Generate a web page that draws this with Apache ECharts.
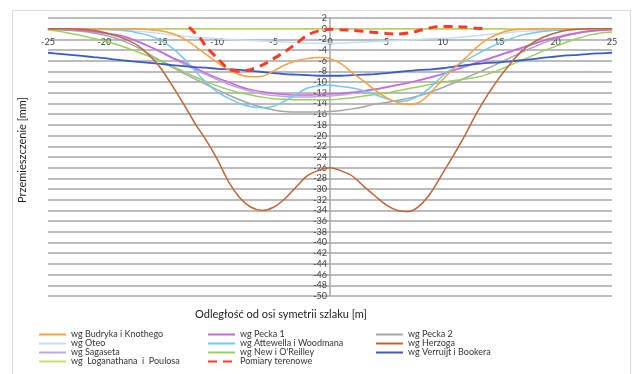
<!DOCTYPE html>
<html><head><meta charset="utf-8">
<script src="https://cdn.jsdelivr.net/npm/echarts@6/dist/echarts.min.js"></script>
<style>html,body{margin:0;padding:0;background:#fff}#c{width:633px;height:374px}</style>
</head><body><div id="c"></div>
<script>
var xValues = [-25,-24,-23,-22,-21,-20,-19,-18,-17,-16,-15,-14,-13,-12,-11,-10,-9,-8,-7,-6,-5,-4,-3,-2,-1,0,1,2,3,4,5,6,7,8,9,10,11,12,13,14,15,16,17,18,19,20,21,22,23,24,25];
var budryka = [0,0,0,0,0,0,0,0,0,-0.2,-0.4,-0.9,-1.8,-3.2,-4.8,-6.3,-7.7,-8.6,-9.0,-8.9,-7.9,-6.8,-6.0,-5.6,-5.4,-5.6,-6.6,-8.3,-9.8,-11.5,-12.9,-13.8,-14.2,-13.7,-11.8,-9.5,-7.4,-5.5,-3.5,-1.9,-0.9,-0.3,-0.1,0,0,0,0,0,0,0,0];
var pecka1 = [-0.1,-0.1,-0.2,-0.3,-0.5,-0.8,-1.1,-1.6,-2.4,-3.3,-4.3,-5.4,-6.3,-7.3,-8.3,-9.2,-10.0,-10.8,-11.4,-11.8,-12.1,-12.3,-12.4,-12.4,-12.3,-12.2,-12.1,-11.9,-11.6,-11.3,-10.9,-10.5,-10.1,-9.6,-9.1,-8.5,-7.8,-7.1,-6.4,-5.7,-5.0,-4.3,-3.6,-2.9,-2.2,-1.7,-1.2,-0.8,-0.5,-0.3,-0.2];
var pecka2 = [-0.1,-0.2,-0.3,-0.5,-0.8,-1.2,-1.8,-2.6,-3.6,-4.8,-6.0,-7.2,-8.3,-9.4,-10.4,-11.4,-12.4,-13.3,-14.1,-14.7,-15.2,-15.5,-15.6,-15.6,-15.6,-15.5,-15.3,-15.0,-14.6,-14.1,-13.8,-13.4,-13.0,-12.5,-11.8,-11.0,-10.1,-9.2,-8.3,-7.4,-6.4,-5.4,-4.4,-3.5,-2.6,-1.9,-1.3,-0.8,-0.5,-0.3,-0.1];
var oteo = [0,0,-0.1,-0.1,-0.2,-0.2,-0.3,-0.4,-0.5,-0.7,-0.9,-1.2,-1.4,-1.6,-1.7,-1.9,-2.0,-2.1,-2.2,-2.3,-2.4,-2.5,-2.6,-2.7,-2.7,-2.8,-2.7,-2.6,-2.5,-2.4,-2.3,-2.2,-2.1,-2.0,-1.9,-1.8,-1.7,-1.5,-1.3,-1.1,-0.9,-0.7,-0.5,-0.4,-0.3,-0.2,-0.2,-0.1,-0.1,0,0];
var attewella = [0,0,0,0,-0.1,-0.1,-0.2,-0.4,-0.8,-1.3,-2.2,-3.6,-5.5,-7.8,-10.0,-11.8,-13.0,-14.0,-14.6,-14.8,-14.5,-13.5,-12.3,-11.1,-10.7,-10.6,-10.8,-11.1,-11.6,-12.3,-13.1,-13.6,-13.4,-12.4,-10.8,-8.8,-7.3,-6.0,-4.8,-3.7,-2.7,-1.9,-1.2,-0.8,-0.5,-0.3,-0.2,-0.1,0,0,0];
var herzoga = [0,0,0,-0.1,-0.3,-0.7,-1.3,-2.1,-3.2,-5.0,-7.4,-10.6,-14.0,-17.6,-20.8,-24.4,-28.6,-31.6,-33.4,-34.0,-33.4,-31.8,-29.6,-27.5,-26.5,-26.0,-26.6,-27.6,-29.5,-31.3,-33.0,-34.0,-34.2,-33.0,-30.5,-27.0,-23.5,-19.8,-15.8,-12.3,-9.2,-6.5,-4.2,-2.6,-1.5,-0.8,-0.3,-0.1,0,0,0];
var sagaseta = [-0.1,-0.2,-0.3,-0.4,-0.6,-0.9,-1.3,-1.8,-2.5,-3.4,-4.4,-5.5,-6.6,-7.6,-8.6,-9.5,-10.4,-11.1,-11.7,-12.2,-12.5,-12.7,-12.8,-12.8,-12.7,-12.6,-12.4,-12.1,-11.8,-11.4,-11.0,-10.6,-10.1,-9.6,-9.0,-8.4,-7.7,-7.0,-6.3,-5.6,-4.9,-4.2,-3.5,-2.8,-2.1,-1.6,-1.1,-0.7,-0.4,-0.2,-0.1];
var newOReilley = [-0.2,-0.5,-0.9,-1.3,-1.8,-2.3,-2.9,-3.6,-4.4,-5.2,-6.1,-7.0,-8.0,-9.0,-9.9,-10.7,-11.4,-12.0,-12.4,-12.8,-13.1,-13.2,-13.3,-13.3,-13.3,-13.3,-13.1,-12.9,-12.6,-12.3,-12.0,-11.6,-11.2,-10.8,-10.4,-10.0,-9.7,-9.4,-9.1,-8.5,-7.7,-6.8,-5.9,-5.0,-4.1,-3.3,-2.5,-1.8,-1.2,-0.8,-0.6];
var verruijt = [-4.5,-4.7,-4.9,-5.1,-5.3,-5.5,-5.8,-6.0,-6.2,-6.4,-6.6,-6.8,-7.0,-7.2,-7.3,-7.5,-7.6,-7.7,-7.9,-8.1,-8.3,-8.5,-8.6,-8.7,-8.8,-8.8,-8.8,-8.7,-8.6,-8.5,-8.3,-8.1,-7.9,-7.7,-7.6,-7.4,-7.1,-6.8,-6.6,-6.4,-6.3,-6.1,-5.9,-5.7,-5.4,-5.2,-5.0,-4.9,-4.7,-4.6,-4.5];
var loganathana = [0,0,0,0,0,0,0,0,0,0,-0.1,-0.1,-0.1,-0.1,-0.1,-0.1,-0.1,-0.1,-0.1,-0.1,-0.1,-0.1,-0.1,-0.1,-0.1,-0.1,-0.1,-0.1,-0.1,-0.1,-0.1,-0.1,-0.1,-0.1,-0.1,-0.1,-0.1,-0.1,-0.1,-0.1,-0.1,0,0,0,0,0,0,0,0,0,0];
var pomiaryX = [-12.5,-11.5,-11,-10,-9,-8,-7,-6,-5,-4,-3,-2,-1,0,1,2,3,4,5,6,7,8,9,10,11,12,13,14];
var pomiaryY = [0.3,-1.8,-3.3,-5.5,-7.5,-8.0,-7.6,-6.8,-5.6,-4.3,-2.8,-1.2,-0.4,-0.1,-0.2,-0.3,-0.5,-0.7,-0.9,-1.0,-0.8,-0.3,0.2,0.4,0.4,0.3,0.1,0];

var seriesNames = ['wg Budryka i Knothego','wg Pecka 1','wg Pecka 2','wg Oteo','wg Attewella i Woodmana','wg Herzoga','wg Sagaseta','wg New i O\'Reilley','wg Verruijt i Bookera','wg  Loganathana  i  Poulosa','Pomiary terenowe'];

var GRID_LEFT = 48, GRID_RIGHT = 21, GRID_TOP = 18, GRID_BOTTOM = 78, W = 633, H = 374;
var X_MIN = -25, X_MAX = 25, Y_MIN = -50, Y_MAX = 2;
// axis crossing offsets (axes drawn through the origin)
var plotW = W - GRID_LEFT - GRID_RIGHT, plotH = H - GRID_TOP - GRID_BOTTOM;
var yAxisShift = plotW * (0 - X_MIN) / (X_MAX - X_MIN);
var xAxisShift = plotH * (Y_MAX - 0) / (Y_MAX - Y_MIN);

function pairs(xs, ys){ return xs.map(function(x,i){ return [x, ys[i]]; }); }
function line(name, ys, color, width){
  return {name:name, type:'line', data:pairs(xValues, ys), symbol:'none', smooth:0.3,
    lineStyle:{color:color, width:width||1.5}, itemStyle:{color:color, opacity:0}, z:2};
}
var series = [
  line(seriesNames[3], oteo, '#c6def2'),
  line(seriesNames[9], loganathana, '#cfe06a'),
  line(seriesNames[6], sagaseta, '#b9a9e2'),
  line(seriesNames[2], pecka2, '#a6a6a6'),
  line(seriesNames[7], newOReilley, '#98d25a'),
  line(seriesNames[1], pecka1, '#c866dc'),
  line(seriesNames[4], attewella, '#74c9ee'),
  line(seriesNames[8], verruijt, '#3a5cc8', 1.8),
  line(seriesNames[0], budryka, '#f9a140'),
  line(seriesNames[5], herzoga, '#c0653a'),
  {name:seriesNames[10], type:'line', data:pairs(pomiaryX, pomiaryY), symbol:'none', smooth:0.3,
   lineStyle:{color:'#ff3a2a', width:3, type:[9,6]}, itemStyle:{color:'#ff3a2a', opacity:0}, z:3}
];
function legend(left, names){
  return {orient:'vertical', left:left, top:325, itemWidth:27, itemHeight:11, itemGap:0,
    data:names, selectedMode:false, itemStyle:{opacity:0},
    textStyle:{fontSize:9, color:'#333', fontFamily:'Lato'}};
}
var chart = echarts.init(document.getElementById('c'));
chart.setOption({
  animation:false,
  backgroundColor:'#fff',
  grid:{left:GRID_LEFT, right:GRID_RIGHT, top:GRID_TOP, bottom:GRID_BOTTOM},
  xAxis:{type:'value', min:X_MIN, max:X_MAX, interval:5, position:'top', offset:-xAxisShift,
    axisLine:{onZero:false, lineStyle:{color:'#a6a6a6', width:1.5}},
    axisTick:{show:false}, splitLine:{show:false},
    axisLabel:{inside:true, fontSize:9, color:'#404040', margin:9, fontFamily:'Lato'}},
  yAxis:{type:'value', min:Y_MIN, max:Y_MAX, interval:2, position:'left', offset:-yAxisShift,
    axisLine:{show:true, onZero:false, lineStyle:{color:'#a6a6a6', width:1.5}},
    axisTick:{show:false},
    splitLine:{lineStyle:{color:'#a6a6a6', width:1.5}},
    axisLabel:{fontSize:9, color:'#404040', margin:3, fontFamily:'Lato'}},
  legend:[
    legend(33, [seriesNames[0], seriesNames[3], seriesNames[6], seriesNames[9]]),
    legend(202, [seriesNames[1], seriesNames[4], seriesNames[7], seriesNames[10]]),
    legend(370, [seriesNames[2], seriesNames[5], seriesNames[8]])
  ],
  graphic:[
    {type:'rect', shape:{x:12.5, y:10.5, width:618, height:380}, style:{fill:null, stroke:'#d9d9d9', lineWidth:1}, z:-10},
    {type:'text', left:195, top:309, style:{text:'Odległość od osi symetrii szlaku [m]', fontSize:11, fill:'#222', fontFamily:'Lato'}},
    {type:'text', x:22, y:150, rotation:Math.PI/2, style:{text:'Przemieszczenie [mm]', fontSize:11, fill:'#222', fontFamily:'Lato', align:'center', verticalAlign:'middle'}}
  ],
  series:series
});
</script></body></html>
